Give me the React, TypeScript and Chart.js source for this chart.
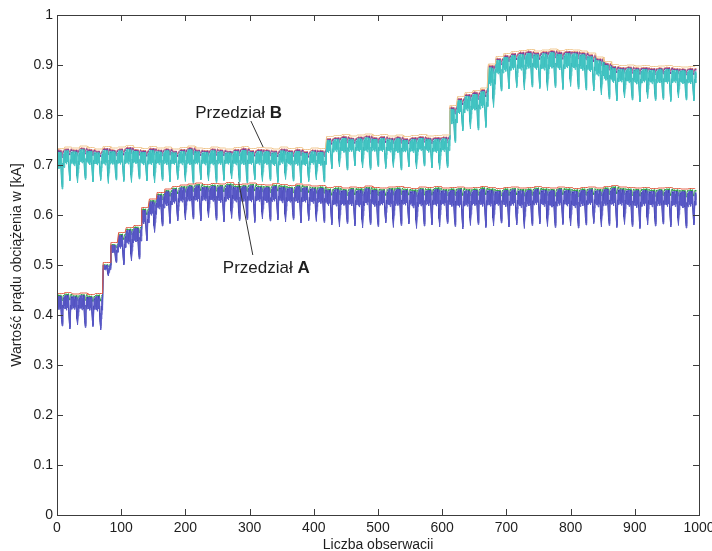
import { useEffect, useRef } from "react";
import { Chart, registerables } from "chart.js";

Chart.register(...registerables);

// Observations per daily load cycle
const OBS_PER_CYCLE = 12;

// Axis ticks
const X_TICKS = [0, 100, 200, 300, 400, 500, 600, 700, 800, 900, 1000];
const X_TICK_LABELS = ["0", "100", "200", "300", "400", "500", "600", "700", "800", "900", "1000"];
const Y_TICKS = [0, 0.1, 0.2, 0.3, 0.4, 0.5, 0.6, 0.7, 0.8, 0.9, 1];
const Y_TICK_LABELS = ["0", "0.1", "0.2", "0.3", "0.4", "0.5", "0.6", "0.7", "0.8", "0.9", "1"];

// Przedział A: per-cycle peak load [kA]
const A_PEAK = [
  0.438, 0.44, 0.437, 0.439, 0.436, 0.438,
  0.5, 0.54, 0.56, 0.57, 0.574, 0.61, 0.627, 0.64, 0.647, 0.652, 0.655,
  0.657, 0.659, 0.656, 0.658, 0.657, 0.66, 0.656, 0.657, 0.659, 0.656, 0.655, 0.658, 0.656, 0.654, 0.657, 0.655, 0.653, 0.654,
  0.65, 0.652, 0.649, 0.651, 0.65, 0.653, 0.65, 0.649, 0.651, 0.652, 0.65, 0.648,
  0.651, 0.65, 0.652, 0.649, 0.65, 0.651, 0.649, 0.65, 0.652, 0.65, 0.648, 0.65,
  0.651, 0.649, 0.65, 0.652, 0.65, 0.649, 0.651, 0.65, 0.648, 0.65, 0.651, 0.649,
  0.652, 0.654, 0.651, 0.65, 0.649, 0.65, 0.648, 0.649, 0.65, 0.648, 0.647, 0.648,
];

// Przedział A: per-cycle minimum load [kA]
const A_TROUGH = [
  0.378, 0.372, 0.38, 0.375, 0.377, 0.37,
  0.478, 0.505, 0.5, 0.508, 0.512, 0.548, 0.565, 0.578, 0.583, 0.588, 0.59,
  0.592, 0.588, 0.595, 0.59, 0.586, 0.593, 0.589, 0.591, 0.585, 0.592, 0.588, 0.59, 0.586, 0.591, 0.584, 0.589, 0.587, 0.585,
  0.58, 0.576, 0.583, 0.578, 0.574, 0.581, 0.577, 0.584, 0.575, 0.579, 0.582, 0.573,
  0.578, 0.58, 0.576, 0.583, 0.577, 0.572, 0.579, 0.581, 0.575, 0.578, 0.584, 0.576,
  0.58, 0.573, 0.579, 0.582, 0.577, 0.575, 0.581, 0.578, 0.574, 0.58, 0.583, 0.576,
  0.579, 0.575, 0.581, 0.577, 0.573, 0.58, 0.578, 0.582, 0.576, 0.579, 0.574, 0.58,
];

// Przedział B: per-cycle peak load [kA]
const B_PEAK = [
  0.726, 0.729, 0.727, 0.731, 0.728, 0.725, 0.73, 0.727, 0.729, 0.732, 0.728, 0.726,
  0.73, 0.727, 0.729, 0.725, 0.728, 0.731, 0.727, 0.726, 0.729, 0.727, 0.725, 0.728,
  0.73, 0.726, 0.728, 0.727, 0.725, 0.729, 0.726, 0.728, 0.724, 0.727, 0.726,
  0.75, 0.752, 0.754, 0.751, 0.753, 0.755, 0.752, 0.754, 0.751, 0.753, 0.75, 0.752, 0.754, 0.751, 0.752, 0.753,
  0.812, 0.83, 0.838, 0.842, 0.847,
  0.895, 0.91, 0.916, 0.92,
  0.922, 0.924, 0.921, 0.923, 0.925, 0.922, 0.924, 0.923, 0.921, 0.917,
  0.909, 0.9, 0.894,
  0.892, 0.893, 0.891, 0.892, 0.89, 0.891, 0.892, 0.89, 0.889, 0.89,
];

// Przedział B: per-cycle minimum load [kA]
const B_TROUGH = [
  0.652, 0.668, 0.664, 0.671, 0.666, 0.669, 0.663, 0.67, 0.667, 0.665, 0.672, 0.668,
  0.664, 0.669, 0.666, 0.671, 0.667, 0.663, 0.67, 0.668, 0.665, 0.669, 0.672, 0.666,
  0.664, 0.67, 0.667, 0.669, 0.665, 0.671, 0.668, 0.664, 0.667, 0.67, 0.666,
  0.692, 0.696, 0.69, 0.698, 0.694, 0.691, 0.697, 0.693, 0.695, 0.69, 0.696, 0.692, 0.698, 0.694, 0.691, 0.695,
  0.745, 0.768, 0.772, 0.77, 0.775,
  0.815,
  0.848, 0.852, 0.855, 0.85, 0.856, 0.853, 0.849, 0.855, 0.851, 0.857, 0.852, 0.85, 0.848,
  0.84,
  0.832, 0.828, 0.834, 0.83, 0.826, 0.833, 0.829, 0.831, 0.827, 0.834, 0.83, 0.828,
];

// Within-cycle load shapes (0 = cycle minimum, 1 = cycle peak)
const SHAPE_MAIN = [0.95, 0.6, 1.0, 0.55, 0.92, 0.62, 0.98, 0.5, 0.0, 0.45, 0.9, 0.58];
const SHAPE_SECOND = [0.68, 0.97, 0.6, 0.9, 0.64, 1.0, 0.58, 0.22, 0.05, 0.7, 0.6, 0.95];
const SHAPE_THIRD = [1.0, 0.74, 0.95, 0.7, 1.0, 0.72, 0.9, 0.36, 0.12, 0.32, 0.96, 0.74];
const SHAPE_TOP_1 = [1.02, 0.96, 1.04, 0.97, 1.03, 0.98, 1.04, 0.9, 0.85, 0.95, 1.03, 0.99];
const SHAPE_TOP_2 = [1.05, 1.01, 1.07, 1.0, 1.06, 1.02, 1.06, 0.98, 0.95, 1.0, 1.06, 1.03];

// Cycle maximum lines sit this far above the peaks [kA]
const A_MAX_GAP = 0.005;
const B_MAX_GAP = 0.007;

type Pt = { x: number; y: number };

function shapedSeries(peaks: number[], troughs: number[], shape: number[]): Pt[] {
  const pts: Pt[] = [];
  const n = Math.min(peaks.length, troughs.length);
  for (let c = 0; c < n; c++) {
    const lo = troughs[c];
    const hi = peaks[c];
    shape.forEach((s, k) => pts.push({ x: c * OBS_PER_CYCLE + k, y: lo + (hi - lo) * s }));
  }
  return pts;
}

function maxSeries(peaks: number[], gap: number): Pt[] {
  const pts: Pt[] = [];
  peaks.forEach((p, c) => {
    for (let k = 0; k < OBS_PER_CYCLE; k++) pts.push({ x: c * OBS_PER_CYCLE + k, y: p + gap });
  });
  return pts;
}

const FONT = '"Liberation Sans", Arial, Helvetica, sans-serif';
const TICK_LEN = 6;

function drawLabel(ctx: CanvasRenderingContext2D, normal: string, bold: string, cx: number, cy: number) {
  ctx.font = `17px ${FONT}`;
  const w1 = ctx.measureText(normal).width;
  ctx.font = `bold 17px ${FONT}`;
  const w2 = ctx.measureText(bold).width;
  const left = cx - (w1 + w2) / 2;
  ctx.textAlign = "left";
  ctx.textBaseline = "middle";
  ctx.font = `17px ${FONT}`;
  ctx.fillText(normal, left, cy);
  ctx.font = `bold 17px ${FONT}`;
  ctx.fillText(bold, left + w1, cy);
}

const framePlugin = {
  id: "matlabFrame",
  afterDraw(chart: Chart) {
    const { ctx, chartArea: a } = chart;
    const xs = chart.scales.x;
    const ys = chart.scales.y;
    ctx.save();

    // box with inward ticks on all sides
    ctx.strokeStyle = "#3c3c3c";
    ctx.lineWidth = 1;
    ctx.strokeRect(Math.round(a.left) + 0.5, Math.round(a.top) + 0.5, Math.round(a.right - a.left), Math.round(a.bottom - a.top));
    ctx.beginPath();
    X_TICKS.forEach((v) => {
      const px = Math.round(xs.getPixelForValue(v)) + 0.5;
      ctx.moveTo(px, a.bottom);
      ctx.lineTo(px, a.bottom - TICK_LEN);
      ctx.moveTo(px, a.top);
      ctx.lineTo(px, a.top + TICK_LEN);
    });
    Y_TICKS.forEach((v) => {
      const py = Math.round(ys.getPixelForValue(v)) + 0.5;
      ctx.moveTo(a.left, py);
      ctx.lineTo(a.left + TICK_LEN, py);
      ctx.moveTo(a.right, py);
      ctx.lineTo(a.right - TICK_LEN, py);
    });
    ctx.stroke();

    // tick labels
    ctx.fillStyle = "#1e1e1e";
    ctx.font = `14px ${FONT}`;
    ctx.textAlign = "center";
    ctx.textBaseline = "middle";
    X_TICKS.forEach((v, i) => ctx.fillText(X_TICK_LABELS[i], xs.getPixelForValue(v), a.bottom + 13));
    ctx.textAlign = "right";
    Y_TICKS.forEach((v, i) => ctx.fillText(Y_TICK_LABELS[i], a.left - 4, ys.getPixelForValue(v)));

    // axis titles
    ctx.font = `14px ${FONT}`;
    ctx.textAlign = "center";
    ctx.fillText("Liczba obserwacii", (a.left + a.right) / 2, a.bottom + 30);
    ctx.save();
    ctx.translate(17, (a.top + a.bottom) / 2);
    ctx.rotate(-Math.PI / 2);
    ctx.fillText("Wartość prądu obciążenia w [kA]", 0, 0);
    ctx.restore();

    // interval labels with leader lines
    ctx.strokeStyle = "#333";
    ctx.beginPath();
    ctx.moveTo(xs.getPixelForValue(302), ys.getPixelForValue(0.788));
    ctx.lineTo(xs.getPixelForValue(321), ys.getPixelForValue(0.736));
    ctx.moveTo(xs.getPixelForValue(283), ys.getPixelForValue(0.666));
    ctx.lineTo(xs.getPixelForValue(305), ys.getPixelForValue(0.52));
    ctx.stroke();
    ctx.fillStyle = "#1e1e1e";
    drawLabel(ctx, "Przedział ", "B", xs.getPixelForValue(283), ys.getPixelForValue(0.804));
    drawLabel(ctx, "Przedział ", "A", xs.getPixelForValue(326), ys.getPixelForValue(0.494));

    ctx.restore();
  },
};

function line(data: Pt[], color: string, order: number) {
  return {
    data,
    borderColor: color,
    borderWidth: 1,
    pointRadius: 0,
    tension: 0,
    fill: false,
    order,
  };
}

export default function App() {
  const canvasRef = useRef<HTMLCanvasElement | null>(null);

  useEffect(() => {
    const canvas = canvasRef.current;
    if (!canvas) return;
    const chart = new Chart(canvas, {
      type: "line",
      data: {
        datasets: [
          // Przedział B
          line(maxSeries(B_PEAK, B_MAX_GAP), "#efc488", 1),
          line(shapedSeries(B_PEAK, B_TROUGH, SHAPE_MAIN), "#42c4c2", 2),
          line(shapedSeries(B_PEAK, B_TROUGH, SHAPE_SECOND), "#2eaab0", 3),
          line(shapedSeries(B_PEAK, B_TROUGH, SHAPE_THIRD), "#78dbd4", 4),
          line(shapedSeries(B_PEAK, B_TROUGH, SHAPE_TOP_1), "#7b3f9e", 5),
          line(shapedSeries(B_PEAK, B_TROUGH, SHAPE_TOP_2), "#e58a70", 6),
          // Przedział A
          line(maxSeries(A_PEAK, A_MAX_GAP), "#e2583e", 1),
          line(shapedSeries(A_PEAK, A_TROUGH, SHAPE_MAIN), "#5858c6", 2),
          line(shapedSeries(A_PEAK, A_TROUGH, SHAPE_SECOND), "#3b3ba8", 3),
          line(shapedSeries(A_PEAK, A_TROUGH, SHAPE_THIRD), "#8282de", 4),
          line(shapedSeries(A_PEAK, A_TROUGH, SHAPE_TOP_1), "#2e9e4a", 5),
        ],
      },
      options: {
        responsive: false,
        animation: false,
        events: [],
        layout: { padding: { left: 57, top: 15, right: 13, bottom: 36 } },
        plugins: { legend: { display: false }, tooltip: { enabled: false } },
        scales: {
          x: { type: "linear", min: 0, max: 1000, display: false },
          y: { type: "linear", min: 0, max: 1, display: false },
        },
      },
      plugins: [framePlugin],
    });
    return () => chart.destroy();
  }, []);

  return (
    <div style={{ position: "absolute", left: 0, top: 0, width: 712, height: 551, background: "#fff" }}>
      <canvas ref={canvasRef} width={712} height={551} />
    </div>
  );
}
